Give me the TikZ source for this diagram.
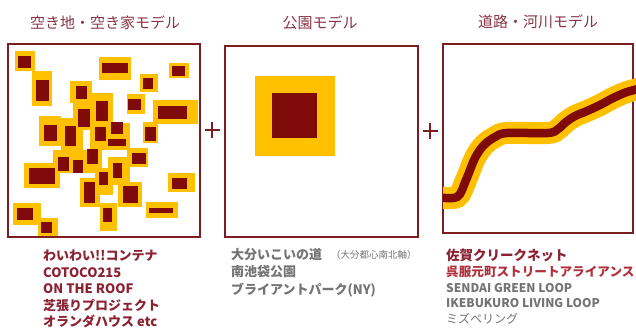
\documentclass[tikz,border=0pt]{standalone}
\usepackage{fontspec}
\setmainfont{Noto Sans CJK JP}
\definecolor{maroon}{HTML}{7F0A0A}
\definecolor{boxline}{HTML}{7A1E22}
\definecolor{yel}{HTML}{FFC000}
\definecolor{titlec}{HTML}{8A3446}
\definecolor{listm}{HTML}{8B2232}
\definecolor{listr}{HTML}{B0303C}
\definecolor{listg}{HTML}{747474}
\tikzset{
  modelbox/.style={draw=boxline, line width=1.8pt},
  plussign/.style={draw=boxline, line width=1.8pt},
  titletext/.style={text=titlec, font=\fontsize{15}{15}\selectfont, inner sep=0pt},
  listtext/.style={anchor=base west, inner sep=0pt, font=\fontsize{13}{13}\selectfont\bfseries},
}
\begin{document}
\begin{tikzpicture}[x=1pt,y=-1pt]
\useasboundingbox (0,0) rectangle (636,331);
\fill[white] (0,0) rectangle (636,331);

% titles
\node[titletext] (t1) at (105,23) {空き地・空き家モデル};
\node[titletext] (t2) at (320,23) {公園モデル};
\node[titletext] (t3) at (538,22) {道路・河川モデル};

% box 1 lots
\foreach \a/\b/\c/\d in {15/51/35/71, 32/71/52/106, 99/57/131/80, 169/63/189/78,
  140/74/158/92, 70/81/92/103, 127/94/145/114, 153/100/198/124, 39/116/61/146,
  143/122/158/143, 73/100/93/130, 92/93/113/123, 61/118/83/150, 90/123/130/150,
  53/150/102/173, 127/148/148/167, 108/157/130/185, 95/168/113/195,
  24/163/60/188, 80/178/100/207, 118/182/142/207, 168/173/195/192, 13/203/41/225,
  38/218/58/237, 100/203/117/231, 146/202/178/218}
  \fill[yel] (\a,\b) rectangle (\c,\d);
\foreach \a/\b/\c/\d in {18/56/31/68, 36/80/49/101, 102/63/128/73, 172/66/185/76,
  143/78/153/89, 76/86/87/99, 128/99/141/110, 158/106/187/119, 78/109/90/127,
  96/101/108/121, 44/125/57/141, 65/126/76/146, 95/127/106/141, 111/122/123/134,
  108/139/126/146, 145/127/156/141, 87/149/98/164, 132/153/146/164, 58/157/69/171,
  73/160/83/173, 29/168/55/184, 113/163/122/178, 99/172/108/185, 172/178/187/189,
  84/182/95/203, 123/186/138/203, 17/208/33/220, 41/222/52/233, 103/208/112/222,
  149/208/173/213}
  \fill[maroon] (\a,\b) rectangle (\c,\d);
\draw[modelbox] (8,44) rectangle (200,237);

% box 2 park
\fill[yel] (255,76) rectangle (335,156);
\fill[maroon] (272,93) rectangle (317,138);
\draw[modelbox] (225,46) rectangle (418,237);

% box 3 road
\draw[modelbox] (443,44) rectangle (633,233);
\begin{scope}
\clip (443,40) rectangle (636,240);
\draw[yel, line width=22pt, smooth, tension=0.55] plot coordinates {(436,197) (457,197) (466,180) (475,158) (484,145) (495,137) (507,133) (548,133) (558,129) (566,122) (575,116) (587,111) (600,105) (613,98) (627,92) (642,88)};
\draw[maroon, line width=8.5pt, smooth, tension=0.55] plot coordinates {(436,197) (457,197) (466,180) (475,158) (484,145) (495,137) (507,133) (548,133) (558,129) (566,122) (575,116) (587,111) (600,105) (613,98) (627,92) (642,88)};
\end{scope}

% plus signs
\coordinate (p1) at (212,130);
\coordinate (p2) at (430,131);
\draw[plussign] ([xshift=-7.5pt]p1) -- ([xshift=7.5pt]p1);
\draw[plussign] ([yshift=-8pt]p1) -- ([yshift=8pt]p1);
\draw[plussign] ([xshift=-7.5pt]p2) -- ([xshift=7.5pt]p2);
\draw[plussign] ([yshift=-8pt]p2) -- ([yshift=8pt]p2);

% lists
\node[listtext, text=listm] (a1) at (43,260) {わいわい!!コンテナ};
\node[listtext, text=listm] (a2) at (43,277) {COTOCO215};
\node[listtext, text=listm] (a3) at (43,293) {ON THE ROOF};
\node[listtext, text=listm] (a4) at (43,310) {芝張りプロジェクト};
\node[listtext, text=listm] (a5) at (43,326) {オランダハウス etc};

\node[listtext, text=listg] (b1) at (231,259) {大分いこいの道};
\node[listtext, text=listg, font=\fontsize{9.5}{9.5}\selectfont] (b1s) at (331,258) {（大分都心南北軸）};
\node[listtext, text=listg] (b2) at (231,276) {南池袋公園};
\node[listtext, text=listg] (b3) at (231,294) {ブライアントパーク(NY)};

\node[listtext, text=listm, font=\fontsize{13.5}{13.5}\selectfont\bfseries] (c1) at (446,260) {佐賀クリークネット};
\node[listtext, text=listr, font=\fontsize{12.6}{12.6}\selectfont\bfseries] (c2) at (446,276) {呉服元町ストリートアライアンス};
\node[listtext, text=listg, font=\fontsize{12}{12}\selectfont\bfseries] (c3) at (446,292) {SENDAI GREEN LOOP};
\node[listtext, text=listg, font=\fontsize{12}{12}\selectfont\bfseries] (c4) at (446,307) {IKEBUKURO LIVING LOOP};
\node[listtext, text=listg, font=\fontsize{12}{12}\selectfont] (c5) at (446,323) {ミズベリング};
\end{tikzpicture}
\end{document}
